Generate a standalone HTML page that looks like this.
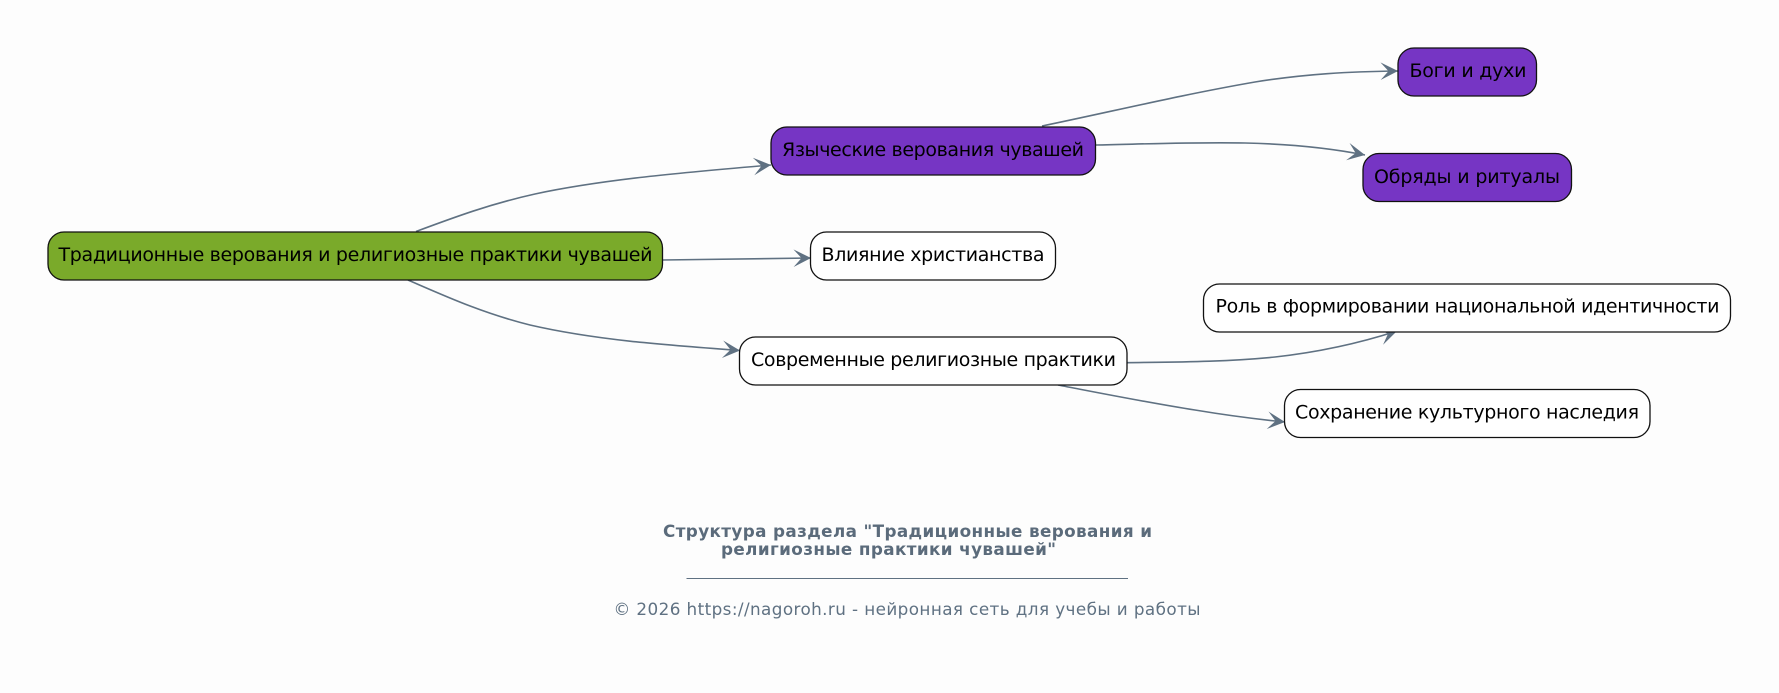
<!DOCTYPE html>
<html><head><meta charset="utf-8"><style>
html,body{margin:0;padding:0;background:#fdfdfd;width:1779px;height:693px;overflow:hidden}
svg{display:block}
.n{stroke:#111;stroke-width:1.3}
.t{font:19px "DejaVu Sans",sans-serif;fill:#000}
.e{fill:none;stroke:#5f7182;stroke-width:1.6}
</style></head><body>
<svg width="1779" height="693" viewBox="0 0 1779 693" xmlns="http://www.w3.org/2000/svg">
<defs><marker id="a" markerUnits="userSpaceOnUse" markerWidth="20" markerHeight="20" refX="18" refY="10" orient="auto" viewBox="0 0 20 20">
<path d="M18 10 L0.500 1.200 L8.500 10 L0.500 18.800 Z" fill="#5f7182"/></marker></defs>
<path class="e" marker-end="url(#a)" d="M416 231.500 C 455 217 490 204 535 194 C 605 179 690 172 771 165"/>
<path class="e" marker-end="url(#a)" d="M662 260 C 710 259 760 258.500 811 258"/>
<path class="e" marker-end="url(#a)" d="M408 280 C 445 296 482 313 530 325 C 595 340 665 345 740 350.500"/>
<path class="e" marker-end="url(#a)" d="M1042 126 C 1110 112 1180 95 1255 82 C 1305 74 1350 71.500 1398 71"/>
<path class="e" marker-end="url(#a)" d="M1096 145 C 1145 144 1195 142 1245 143 C 1290 144 1330 148 1365 155"/>
<path class="e" marker-end="url(#a)" d="M1127 362.700 C 1175 362 1225 362 1275 357 C 1320 352 1360 343 1397 331"/>
<path class="e" marker-end="url(#a)" d="M1058 385 C 1105 394 1150 403 1195 410 C 1225 415 1255 419 1285 422"/>
<rect class="n" x="48" y="232" width="614.500" height="48" rx="16" fill="#7aaa2a"/>
<rect class="n" x="771" y="127" width="324.500" height="48" rx="16" fill="#7635c4"/>
<rect class="n" x="1398" y="48" width="138.500" height="48" rx="16" fill="#7635c4"/>
<rect class="n" x="1363" y="153.500" width="208.500" height="48" rx="16" fill="#7635c4"/>
<rect class="n" x="810.500" y="232" width="245" height="48" rx="16" fill="#fff"/>
<rect class="n" x="739.500" y="337" width="387.500" height="48" rx="16" fill="#fff"/>
<rect class="n" x="1203.500" y="284" width="527" height="48" rx="16" fill="#fff"/>
<rect class="n" x="1284.500" y="389.500" width="365.500" height="48" rx="16" fill="#fff"/>
<text class="t" x="58.500" y="261" textLength="594">Традиционные верования и религиозные практики чувашей</text>
<text class="t" x="782" y="156" textLength="302">Языческие верования чувашей</text>
<text class="t" x="1409.500" y="77" textLength="117">Боги и духи</text>
<text class="t" x="1374" y="183" textLength="186">Обряды и ритуалы</text>
<text class="t" x="821.500" y="261" textLength="223">Влияние христианства</text>
<text class="t" x="751" y="366" textLength="365">Современные религиозные практики</text>
<text class="t" x="1215.500" y="312.500" textLength="504">Роль в формировании национальной идентичности</text>
<text class="t" x="1295" y="418.500" textLength="344">Сохранение культурного наследия</text>
<text x="663" y="537" textLength="489" style="font:bold 16.800px 'DejaVu Sans',sans-serif;fill:#5b6b7b">Структура раздела "Традиционные верования и</text>
<text x="721" y="555" textLength="335" style="font:bold 16.800px 'DejaVu Sans',sans-serif;fill:#5b6b7b">религиозные практики чувашей"</text>
<line x1="686.500" y1="578.500" x2="1128" y2="578.500" stroke="#5f7182" stroke-width="1"/>
<text x="613.500" y="615" textLength="587" style="font:16.800px 'DejaVu Sans',sans-serif;fill:#5f7182">© 2026 https://nagoroh.ru - нейронная сеть для учебы и работы</text>
</svg>
</body></html>
